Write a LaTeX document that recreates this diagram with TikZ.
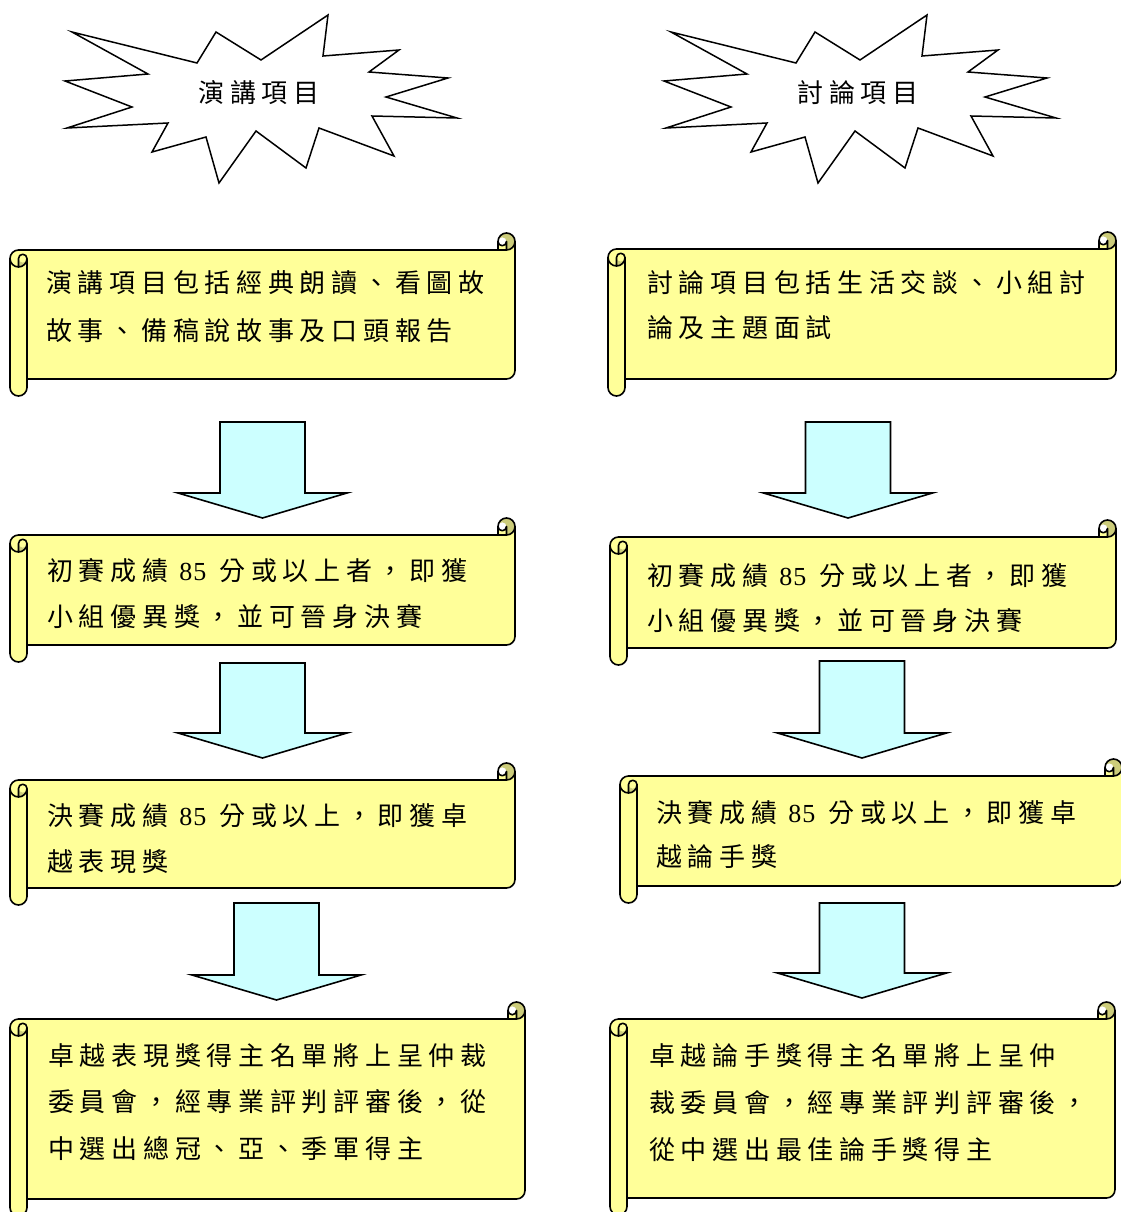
\documentclass[tikz,border=0pt]{standalone}
\usepackage{fontspec}
\newfontfamily\cjk[LetterSpace=22]{Noto Sans CJK TC}
\newfontfamily\lat{Liberation Serif}
\definecolor{scrollyellow}{RGB}{255,255,153}
\definecolor{scrolldark}{RGB}{204,204,122}
\definecolor{arrowcyan}{RGB}{204,255,255}
\def\scrC{17}\def\scrH{8.5}\def\scrQ{4.25}
\newcommand\scrollshape[4]{%
 \def\scrL{#1}\def\scrT{#2}\def\scrR{#3}\def\scrB{#4}%
 \fill[scrollyellow] (\scrR,\scrT+\scrH) arc[start angle=0,delta angle=90,radius=\scrH]
   -- (\scrR-\scrH,\scrT+\scrH) arc[start angle=0,delta angle=180,radius=\scrQ]
   -- (\scrR-\scrC,\scrT+\scrC) -- (\scrL+\scrH,\scrT+\scrC)
   arc[start angle=270,delta angle=-90,radius=\scrH]
   -- (\scrL,\scrB-\scrH) arc[start angle=180,delta angle=-180,radius=\scrH]
   -- (\scrL+\scrC,\scrB-\scrC) -- (\scrR-\scrH,\scrB-\scrC)
   arc[start angle=90,delta angle=-90,radius=\scrH] -- cycle;
 \fill[scrolldark] (\scrL+\scrH,\scrT+2*\scrC) arc[start angle=90,delta angle=-90,radius=\scrH]
   arc[start angle=0,delta angle=180,radius=\scrQ] -- cycle;
 \fill[scrolldark] (\scrR-\scrH,\scrT+\scrC) arc[start angle=90,delta angle=-270,radius=\scrH]
   arc[start angle=180,delta angle=180,radius=\scrQ] -- cycle;
 \draw[scrollline] (\scrL,\scrT+\scrC+\scrH) arc[start angle=180,delta angle=90,radius=\scrH]
   -- (\scrR-\scrC,\scrT+\scrC) -- (\scrR-\scrC,\scrT+\scrH)
   arc[start angle=180,delta angle=180,radius=\scrH]
   -- (\scrR,\scrB-\scrC-\scrH) arc[start angle=0,delta angle=90,radius=\scrH]
   -- (\scrL+\scrC,\scrB-\scrC) -- (\scrL+\scrC,\scrB-\scrH)
   arc[start angle=0,delta angle=180,radius=\scrH] -- cycle;
 \draw[scrollline] (\scrR-\scrC,\scrT+\scrC) -- (\scrR-\scrH,\scrT+\scrC)
   arc[start angle=90,delta angle=-90,radius=\scrH];
 \draw[scrollline] (\scrR-\scrH,\scrT+\scrC) -- (\scrR-\scrH,\scrT+\scrH)
   arc[start angle=0,delta angle=180,radius=\scrQ];
 \draw[scrollline] (\scrL+\scrH,\scrT+2*\scrC) -- (\scrL+\scrH,\scrT+\scrC+\scrH)
   arc[start angle=180,delta angle=180,radius=\scrQ]
   arc[start angle=0,delta angle=180,radius=\scrH];
 \draw[scrollline] (\scrL+\scrC,\scrT+\scrC+\scrH) -- (\scrL+\scrC,\scrB-\scrC);
}
\newcommand\blockdown[3]{%
 \draw[blockarrow] (#1-42.5,#2) -- (#1+42.5,#2) -- (#1+42.5,#3-25) -- (#1+84.5,#3-25)
   -- (#1,#3) -- (#1-84.5,#3-25) -- (#1-42.5,#3-25) -- cycle;}
\newcommand\burstshape{%
 \draw[burst] (72,32) -- (197,63) -- (216,32) -- (261,60) -- (328,15) -- (323,56)
   -- (399,50) -- (369,72) -- (448,78) -- (386,97) -- (457,118) -- (372,116)
   -- (394,156) -- (319,128) -- (306,168) -- (256,131) -- (219,183) -- (206,137)
   -- (152,152) -- (168,123) -- (67,128) -- (132,107) -- (65,81) -- (148,74) -- cycle;}
\newcommand\eightyfive{{\lat\hspace{11pt}8\hspace{1pt}5\hspace{13pt}}}
\begin{document}
\begin{tikzpicture}[x=1pt,y=-1pt,
  scrollline/.style={draw=black,line width=1.6pt,line join=round},
  blockarrow/.style={draw=black,fill=arrowcyan,line width=1.6pt,line join=miter},
  burst/.style={draw=black,fill=white,line width=1.5pt,line join=miter},
  txt/.style={anchor=base west,inner sep=0pt,font=\cjk\fontsize{26}{26}\selectfont},
  bursttxt/.style={anchor=center,inner sep=0pt,font=\cjk\fontsize{26}{26}\selectfont}]
\fill[white] (0,0) rectangle (1120,1212);
\useasboundingbox (0,0) rectangle (1120,1212);
% starbursts
\burstshape
\begin{scope}[xshift=599pt]\burstshape\end{scope}
\node[bursttxt] (titleL) at (259,93) {演講項目};
\node[bursttxt] (titleR) at (858,93) {討論項目};
% block arrows
\blockdown{262.5}{422}{518}
\blockdown{262.5}{663}{758}
\blockdown{276.5}{903}{1000}
\blockdown{848}{422}{518}
\blockdown{862}{661}{758}
\blockdown{862}{903}{998}
% scrolls
\scrollshape{10}{233}{515}{396}
\scrollshape{10}{518}{515}{662}
\scrollshape{10}{763}{515}{905}
\scrollshape{10}{1002}{525}{1216}
\scrollshape{608}{232}{1116}{396}
\scrollshape{610}{520}{1116}{665}
\scrollshape{620}{759}{1122}{903}
\scrollshape{610}{1002}{1115}{1215}
% texts left
\node[txt] (l1a) at (46,292.5) {演講項目包括經典朗讀、看圖故};
\node[txt] (l1b) at (46,340.5) {故事、備稿說故事及口頭報告};
\node[txt] (l2a) at (47,580) {初賽成績\eightyfive 分或以上者，即獲};
\node[txt] (l2b) at (47,626) {小組優異獎，並可晉身決賽};
\node[txt] (l3a) at (47,825) {決賽成績\eightyfive 分或以上，即獲卓};
\node[txt] (l3b) at (47,871.5) {越表現獎};
\node[txt] (l4a) at (48,1065) {卓越表現獎得主名單將上呈仲裁};
\node[txt] (l4b) at (48,1111.5) {委員會，經專業評判評審後，從};
\node[txt] (l4c) at (48,1158.5) {中選出總冠、亞、季軍得主};
% texts right
\node[txt] (r1a) at (647,292.5) {討論項目包括生活交談、小組討};
\node[txt] (r1b) at (647,337.5) {論及主題面試};
\node[txt] (r2a) at (647,585) {初賽成績\eightyfive 分或以上者，即獲};
\node[txt] (r2b) at (647,630.5) {小組優異獎，並可晉身決賽};
\node[txt] (r3a) at (656,822.5) {決賽成績\eightyfive 分或以上，即獲卓};
\node[txt] (r3b) at (656,866.5) {越論手獎};
\node[txt] (r4a) at (649,1065) {卓越論手獎得主名單將上呈仲};
\node[txt] (r4b) at (649,1112) {裁委員會，經專業評判評審後，};
\node[txt] (r4c) at (649,1159.5) {從中選出最佳論手獎得主};
\end{tikzpicture}
\end{document}
